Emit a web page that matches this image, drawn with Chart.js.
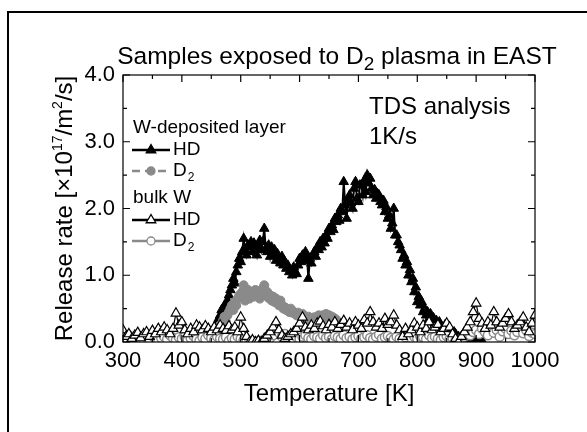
<!DOCTYPE html>
<html>
<head>
<meta charset="utf-8">
<script src="https://cdn.jsdelivr.net/npm/chart.js@4.4.1/dist/chart.umd.min.js"></script>
<style>
  html, body { margin: 0; padding: 0; background: #fff; }
</style>
</head>
<body>
<canvas id="tds" width="587" height="432"></canvas>
<script>
// temperatures [K] and release rates [x10^17 /m^2/s]
const tempsBulk = [
  300,305,310,315,320,325,330,335,340,345,350,355,360,365,370,375,380,385,390,395,
  400,405,410,415,420,425,430,435,440,445,450,455,460,465,470,475,480,485,490,495,
  500,505,510,515,520,525,530,535,540,545,550,555,560,565,570,575,580,585,590,595,
  600,605,610,615,620,625,630,635,640,645,650,655,660,665,670,675,680,685,690,695,
  700,705,710,715,720,725,730,735,740,745,750,755,760,765,770,775,780,785,790,795,
  800,805,810,815,820,825,830,835,840,845,850,855,860,865,870,875,880,885,890,895,
  900,905,910,915,920,925,930,935,940,945,950,955,960,965,970,975,980,985,990,995,
  1000
];
const bulkHD = [
  0.18,0.08,0.12,0.05,0.10,0.14,0.06,0.12,0.15,0.08,0.17,0.12,0.20,0.15,0.22,0.18,0.12,0.20,0.43,0.25,
  0.30,0.18,0.12,0.20,0.15,0.25,0.22,0.18,0.24,0.20,0.15,0.22,0.18,0.25,0.20,0.17,0.24,0.18,0.22,0.15,
  0.37,0.20,0.08,0.00,0.03,0.00,0.02,0.00,0.05,0.10,0.15,0.22,0.30,0.18,0.10,0.05,0.08,0.12,0.15,0.20,
  0.28,0.37,0.22,0.18,0.25,0.20,0.28,0.31,0.24,0.18,0.26,0.22,0.30,0.20,0.26,0.32,0.22,0.28,0.18,0.30,
  0.25,0.20,0.33,0.28,0.45,0.30,0.22,0.28,0.20,0.35,0.26,0.30,0.40,0.25,0.18,0.08,0.20,0.12,0.18,0.28,
  0.22,0.15,0.25,0.20,0.30,0.18,0.22,0.26,0.15,0.20,0.28,0.22,0.12,0.05,0.00,0.08,0.15,0.22,0.30,0.45,
  0.58,0.35,0.28,0.20,0.30,0.25,0.45,0.30,0.22,0.28,0.35,0.42,0.30,0.20,0.25,0.30,0.37,0.22,0.15,0.28,
  0.40
];
const bulkD2 = [
  0.08,0.05,0.10,0.03,0.06,0.02,0.08,0.04,0.07,0.03,0.09,0.05,0.02,0.06,0.08,0.04,0.10,0.06,0.03,0.07,
  0.05,0.08,0.03,0.06,0.09,0.04,0.02,0.07,0.05,0.10,0.06,0.03,0.08,0.05,0.04,0.07,0.02,0.06,0.04,0.08,
  0.05,0.03,0.00,0.02,0.00,0.01,0.00,0.02,0.00,0.03,0.06,0.10,0.18,0.14,0.08,0.12,0.06,0.09,0.04,0.07,
  0.05,0.08,0.10,0.06,0.04,0.09,0.07,0.05,0.10,0.06,0.08,0.04,0.09,0.07,0.05,0.10,0.06,0.08,0.04,0.07,
  0.09,0.05,0.07,0.10,0.06,0.04,0.08,0.11,0.05,0.07,0.09,0.06,0.04,0.08,0.05,0.03,0.07,0.10,0.06,0.08,
  0.05,0.09,0.07,0.04,0.10,0.06,0.08,0.05,0.03,0.07,0.09,0.04,0.06,0.02,0.00,0.05,0.08,0.12,0.10,0.15,
  0.18,0.12,0.20,0.15,0.10,0.22,0.14,0.18,0.08,0.16,0.20,0.12,0.17,0.10,0.15,0.22,0.13,0.18,0.09,0.14,
  0.12
];
const tempsLayerHD = [
  445,447.5,450,452.5,455,457.5,460,462.5,465,467.5,470,472.5,475,477.5,480,482.5,485,487.5,490,492.5,
  495,497.5,500,502.5,505,507.5,510,512.5,515,517.5,520,522.5,525,527.5,530,532.5,535,537.5,540,542.5,
  545,547.5,550,552.5,555,557.5,560,562.5,565,567.5,570,572.5,575,577.5,580,582.5,585,587.5,590,592.5,
  595,597.5,600,602.5,605,607.5,610,612.5,615,617.5,620,622.5,625,627.5,630,632.5,635,637.5,640,642.5,
  645,647.5,650,652.5,655,657.5,660,662.5,665,667.5,670,672.5,675,677.5,680,682.5,685,687.5,690,692.5,
  695,697.5,700,702.5,705,707.5,710,712.5,715,717.5,720,722.5,725,727.5,730,732.5,735,737.5,740,742.5,
  745,747.5,750,752.5,755,757.5,760,762.5,765,767.5,770,772.5,775,777.5,780,782.5,785,787.5,790,792.5,
  795,797.5,800,802.5,805,807.5,810,812.5,815,817.5,820,822.5,825,827.5,830,832.5,835,837.5,840,842.5,
  845,847.5,850,852.5,855,857.5,860,862.5,865,867.5,870,872.5,875,877.5,880,882.5,885,887.5,890,892.5,
  895,897.5,900,902.5,905,907.5,910
];
const layerHD = [
  0.05,0.08,0.12,0.10, 0.20,0.15,0.28,0.35, 0.40,0.48,0.45,0.55, 0.52,0.62,0.70,0.78, 0.85,0.95,0.88,1.05,
  1.15,1.25,1.20,1.35, 1.55,1.38,1.30,1.45, 1.42,1.50,1.35,1.48, 1.40,1.30,1.45,1.52, 1.38,1.50,1.70,1.40,
  1.35,1.45,1.28,1.42, 1.30,1.38,1.22,1.32, 1.25,1.18,1.28,1.15, 1.20,1.10,1.15,1.05, 1.08,1.00,1.12,1.05,
  1.02,1.15,1.25,1.20, 1.30,1.22,1.35,1.28, 0.95,1.25,1.18,1.30, 1.35,1.28,1.42,1.38, 1.50,1.42,1.55,1.48,
  1.60,1.55,1.70,1.65, 1.75,1.68,1.85,1.80, 1.90,1.82,2.00,1.95, 2.40,2.05,1.85,2.15, 2.20,2.08,2.00,2.30,
  2.40,2.15,2.10,2.35, 2.35,2.20,2.42,2.25, 2.50,2.38,2.45,2.30, 2.20,2.28,2.15,2.22, 2.20,2.10,2.05,2.12,
  1.95,2.02,1.85,1.90, 1.70,1.78,2.00,1.60, 1.60,1.50,1.45,1.38, 1.25,1.30,1.15,1.20, 1.00,1.08,0.90,0.95,
  0.75,0.82,0.60,0.68, 0.55,0.60,0.45,0.50, 0.40,0.45,0.35,0.42, 0.30,0.36,0.28,0.32, 0.22,0.30,0.25,0.20,
  0.20,0.26,0.15,0.22, 0.18,0.12,0.10,0.15, 0.12,0.06,0.08,0.05, 0.08,0.03,0.05,0.02, 0.05,0.00,0.02,0.04,
  0.04,0.00,0.03,0.01, 0.03,0.00,0.02
];
const tempsLayerD2 = [
  460,462.5,465,467.5,470,472.5,475,477.5,480,482.5,485,487.5,490,492.5,495,497.5,500,502.5,505,507.5,
  510,512.5,515,517.5,520,522.5,525,527.5,530,532.5,535,537.5,540,542.5,545,547.5,550,552.5,555,557.5,
  560,562.5,565,567.5,570,572.5,575,577.5,580,582.5,585,587.5,590,592.5,595,597.5,600,602.5,605,607.5,
  610,612.5,615,617.5,620,622.5,625,627.5,630,632.5,635,637.5,640,642.5,645,647.5,650,652.5,655,657.5,
  660,662.5
];
const layerD2 = [
  0.15,0.20,0.25,0.22, 0.32,0.38,0.30,0.40, 0.45,0.50,0.55,0.48, 0.60,0.55,0.65,0.70, 0.68,0.75,0.85,0.62,
  0.70,0.78,0.65,0.72, 0.75,0.68,0.78,0.70, 0.76,0.65,0.72,0.80, 0.85,0.70,0.75,0.66, 0.70,0.62,0.68,0.60,
  0.65,0.58,0.55,0.62, 0.55,0.50,0.52,0.48, 0.48,0.45,0.50,0.44, 0.45,0.42,0.40,0.44, 0.40,0.37,0.42,0.36,
  0.36,0.33,0.38,0.31, 0.35,0.32,0.37,0.34, 0.36,0.40,0.35,0.38, 0.40,0.36,0.42,0.37, 0.40,0.35,0.38,0.36,
  0.35,0.33
];
const xTickValues = [300, 400, 500, 600, 700, 800, 900, 1000];
const yTickValues = [0, 1, 2, 3, 4];

const FONT = "'Liberation Sans', Arial, sans-serif";
const GRAY = '#8a8a8a';

Chart.defaults.font.family = FONT;
Chart.defaults.color = '#000';

function pts(xs, ys) {
  return xs.map((x, i) => ({ x: x, y: ys[i] }));
}

// same geometry as Chart.js point styles, used for the hand-drawn legend
function marker(ctx, style, x, y, r, fill, stroke, lw) {
  ctx.beginPath();
  if (style === 'triangle') {
    let a = 0;
    for (let k = 0; k < 3; k++) {
      const px = x + Math.sin(a) * r, py = y - Math.cos(a) * r;
      if (k === 0) ctx.moveTo(px, py); else ctx.lineTo(px, py);
      a += 2 * Math.PI / 3;
    }
    ctx.closePath();
  } else {
    ctx.arc(x, y, r, 0, Math.PI * 2);
  }
  ctx.fillStyle = fill;
  ctx.fill();
  ctx.lineWidth = lw;
  ctx.strokeStyle = stroke;
  ctx.setLineDash([]);
  ctx.stroke();
}

// text with sub/superscripts: parts = [{t, size, dy}]
function richWidth(ctx, parts) {
  let w = 0;
  parts.forEach(p => { ctx.font = p.size + 'px ' + FONT; w += ctx.measureText(p.t).width; });
  return w;
}
function drawRich(ctx, parts, x, y) {
  let cx = x;
  parts.forEach(p => {
    ctx.font = p.size + 'px ' + FONT;
    ctx.fillText(p.t, cx, y + (p.dy || 0));
    cx += ctx.measureText(p.t).width;
  });
}

const legendRows = [
  { head: 'W-deposited layer', y: 128 },
  { text: 'HD', y: 150, line: '#000', dash: [], style: 'triangle', r: 5.5, fill: '#000', stroke: '#000' },
  { text: 'D', sub: '2', y: 171, line: GRAY, dash: [8, 5], style: 'circle', r: 4, fill: GRAY, stroke: GRAY },
  { head: 'bulk W', y: 198 },
  { text: 'HD', y: 220, line: '#000', dash: [], style: 'triangle', r: 5.5, fill: '#fff', stroke: '#000' },
  { text: 'D', sub: '2', y: 241, line: GRAY, dash: [], style: 'circle', r: 4, fill: '#fff', stroke: GRAY }
];

const decorations = {
  id: 'decorations',
  afterDraw(chart) {
    const ctx = chart.ctx, a = chart.chartArea;
    const xs = chart.scales.x, ys = chart.scales.y;
    ctx.save();

    // outer frame (runs off the right and bottom edges)
    ctx.strokeStyle = '#000';
    ctx.lineWidth = 2;
    ctx.strokeRect(8, 12, 700, 500);

    // plot box
    ctx.lineWidth = 1.2;
    ctx.strokeRect(a.left, a.top, a.right - a.left, a.bottom - a.top);

    // inward ticks on all four sides
    ctx.beginPath();
    for (let t = 300; t <= 1000; t += 50) {
      const px = xs.getPixelForValue(t);
      const len = t % 100 === 0 ? 7 : 4;
      ctx.moveTo(px, a.bottom); ctx.lineTo(px, a.bottom - len);
      ctx.moveTo(px, a.top); ctx.lineTo(px, a.top + len);
    }
    for (let v = 0; v <= 4; v += 0.5) {
      const py = ys.getPixelForValue(v);
      const len = v % 1 === 0 ? 7 : 4;
      ctx.moveTo(a.left, py); ctx.lineTo(a.left + len, py);
      ctx.moveTo(a.right, py); ctx.lineTo(a.right - len, py);
    }
    ctx.stroke();

    ctx.fillStyle = '#000';
    ctx.textBaseline = 'alphabetic';
    ctx.textAlign = 'left';

    // title
    const title = [
      { t: 'Samples exposed to D', size: 24.5 },
      { t: '2', size: 19, dy: 6 },
      { t: ' plasma in EAST', size: 24.5 }
    ];
    drawRich(ctx, title, 337 - richWidth(ctx, title) / 2, 64);

    // y axis title, rotated
    const yTitle = [
      { t: 'Release rate [\u00d710', size: 24 },
      { t: '17', size: 14, dy: -10 },
      { t: '/m', size: 24 },
      { t: '2', size: 14, dy: -10 },
      { t: '/s]', size: 24 }
    ];
    ctx.save();
    ctx.translate(72, (a.top + a.bottom) / 2);
    ctx.rotate(-Math.PI / 2);
    drawRich(ctx, yTitle, -richWidth(ctx, yTitle) / 2, 0);
    ctx.restore();

    // annotation
    ctx.font = '24px ' + FONT;
    ctx.textBaseline = 'middle';
    ctx.fillText('TDS analysis', 369, 107);
    ctx.fillText('1K/s', 369, 137);

    // legend
    legendRows.forEach(row => {
      ctx.fillStyle = '#000';
      ctx.textBaseline = 'middle';
      if (row.head) {
        ctx.font = '19px ' + FONT;
        ctx.fillText(row.head, 133, row.y);
        return;
      }
      ctx.beginPath();
      ctx.setLineDash(row.dash);
      ctx.strokeStyle = row.line;
      ctx.lineWidth = 2.5;
      ctx.moveTo(132, row.y); ctx.lineTo(170, row.y);
      ctx.stroke();
      marker(ctx, row.style, 151, row.y, row.r, row.fill, row.stroke, 1.3);
      ctx.fillStyle = '#000';
      ctx.textBaseline = 'middle';
      ctx.font = '19px ' + FONT;
      ctx.fillText(row.text, 173, row.y);
      if (row.sub) {
        const w = ctx.measureText(row.text).width;
        ctx.font = '12px ' + FONT;
        ctx.fillText(row.sub, 173 + w + 1, row.y + 7);
      }
    });

    ctx.restore();
  }
};

new Chart(document.getElementById('tds'), {
  type: 'line',
  data: {
    datasets: [
      {
        label: 'bulk W HD', data: pts(tempsBulk, bulkHD), order: 1,
        borderColor: '#000', borderWidth: 1.2,
        pointStyle: 'triangle', pointRadius: 5.5,
        pointBackgroundColor: '#fff', pointBorderColor: '#000', pointBorderWidth: 1.2
      },
      {
        label: 'bulk W D2', data: pts(tempsBulk, bulkD2), order: 2,
        borderColor: GRAY, borderWidth: 1.2,
        pointStyle: 'circle', pointRadius: 4.5,
        pointBackgroundColor: '#fff', pointBorderColor: GRAY, pointBorderWidth: 1.5
      },
      {
        label: 'W-deposited layer D2', data: pts(tempsLayerD2, layerD2), order: 3,
        borderColor: GRAY, borderWidth: 1.5, borderDash: [6, 4],
        pointStyle: 'circle', pointRadius: 4.5,
        pointBackgroundColor: GRAY, pointBorderColor: GRAY, pointBorderWidth: 1
      },
      {
        label: 'W-deposited layer HD', data: pts(tempsLayerHD, layerHD), order: 4,
        borderColor: '#000', borderWidth: 2,
        pointStyle: 'triangle', pointRadius: 5.5,
        pointBackgroundColor: '#000', pointBorderColor: '#000', pointBorderWidth: 1
      }
    ]
  },
  options: {
    responsive: false,
    animation: false,
    devicePixelRatio: 1,
    layout: { padding: { left: 83, right: 52, top: 75, bottom: 20 } },
    plugins: { legend: { display: false }, tooltip: { enabled: false } },
    elements: { line: { tension: 0 } },
    scales: {
      x: {
        type: 'linear', min: 300, max: 1000,
        afterBuildTicks: s => { s.ticks = xTickValues.map(v => ({ value: v })); },
        afterFit: s => { s.height = 70; },
        grid: { display: false, drawTicks: false },
        border: { display: false },
        ticks: { autoSkip: false, maxRotation: 0, padding: 6, color: '#000', font: { size: 22 }, callback: v => String(v) },
        title: { display: true, text: 'Temperature [K]', color: '#000', font: { size: 24 }, padding: { top: 0, bottom: 3 } }
      },
      y: {
        min: 0, max: 4,
        afterBuildTicks: s => { s.ticks = yTickValues.map(v => ({ value: v })); },
        afterFit: s => { s.width = 40; },
        grid: { display: false, drawTicks: false },
        border: { display: false },
        ticks: { padding: 8, color: '#000', font: { size: 22 }, callback: v => Number(v).toFixed(1) }
      }
    }
  },
  plugins: [decorations]
});
</script>
</body>
</html>
